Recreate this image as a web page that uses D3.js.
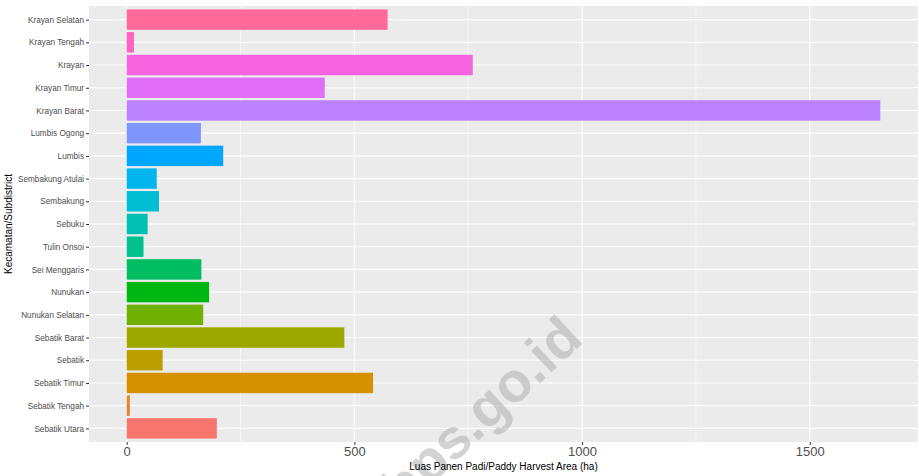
<!DOCTYPE html>
<html><head><meta charset="utf-8">
<script src="https://cdn.jsdelivr.net/npm/d3@7"></script>
<style>body{margin:0;background:#fff}svg{display:block}</style>
</head><body>
<svg id="c" width="919" height="476"></svg>
<script>
// categories from top to bottom
const categories = ["Krayan Selatan","Krayan Tengah","Krayan","Krayan Timur","Krayan Barat","Lumbis Ogong","Lumbis","Sembakung Atulai","Sembakung","Sebuku","Tulin Onsoi","Sei Menggaris","Nunukan","Nunukan Selatan","Sebatik Barat","Sebatik","Sebatik Timur","Sebatik Tengah","Sebatik Utara"];
const values = [573,16,760,435,1655,163,212,66,71,46,37,164,181,168,478,79,541,7,198];
const xTicks = [0,500,1000,1500];
const xMinor = [250,750,1250];
const xTitle = "Luas Panen Padi/Paddy Harvest Area (ha)";
const yTitle = "Kecamatan/Subdistrict";
const watermark = "bps.go.id";

// ggplot-like hue palette (polar LUV)
function hcl(h,c,l){
  const hr=h*Math.PI/180, U=c*Math.cos(hr), V=c*Math.sin(hr);
  const Xn=95.047,Yn=100,Zn=108.883;
  const Y=Yn*(l>7.999592?Math.pow((l+16)/116,3):l/903.3);
  const uN=4*Xn/(Xn+15*Yn+3*Zn), vN=9*Yn/(Xn+15*Yn+3*Zn);
  const u=U/(13*l)+uN, v=V/(13*l)+vN;
  const X=9*Y*u/(4*v), Z=-X/3-5*Y+3*Y/v;
  const x=X/100,y=Y/100,z=Z/100;
  const lin=[3.240479*x-1.537150*y-0.498535*z,-0.969256*x+1.875992*y+0.041556*z,0.055648*x-0.204043*y+1.057311*z];
  const g=lin.map(t=>{t=t<=0.0031308?12.92*t:1.055*Math.pow(t,1/2.4)-0.055;return Math.round(Math.max(0,Math.min(1,t))*255);});
  return d3.rgb(g[0],g[1],g[2]).formatHex();
}
const n=categories.length;
// first factor level is drawn at the bottom
const colorOf = {};
categories.slice().reverse().forEach((c,i)=>{ colorOf[c]=hcl(15+360/n*i,100,65); });

const svg=d3.select("#c");
const P={l:89,r:918,t:6,b:442};
const maxV=d3.max(values);
const x=d3.scaleLinear().domain([-0.05*maxV,1.05*maxV]).range([P.l,P.r]);
const y=d3.scalePoint().domain(categories).range([P.t,P.b]).padding(0.6);
const bh=y.step()*0.9;
const font="'Liberation Sans', Arial, sans-serif";

svg.append("rect").attr("x",P.l).attr("y",P.t).attr("width",P.r-P.l).attr("height",P.b-P.t).attr("fill","#EBEBEB");
const grid=svg.append("g");
grid.selectAll(".mn").data(xMinor).join("line").attr("x1",d=>x(d)).attr("x2",d=>x(d)).attr("y1",P.t).attr("y2",P.b).attr("stroke","#fff").attr("stroke-width",0.55);
grid.selectAll(".mj").data(xTicks).join("line").attr("x1",d=>x(d)).attr("x2",d=>x(d)).attr("y1",P.t).attr("y2",P.b).attr("stroke","#fff").attr("stroke-width",1.1);
grid.selectAll(".hy").data(categories).join("line").attr("x1",P.l).attr("x2",P.r).attr("y1",d=>y(d)).attr("y2",d=>y(d)).attr("stroke","#fff").attr("stroke-width",1.1);

svg.append("g").selectAll("rect").data(categories).join("rect")
  .attr("x",x(0)).attr("y",d=>y(d)-bh/2)
  .attr("width",(d,i)=>x(values[i])-x(0)).attr("height",bh)
  .attr("fill",d=>colorOf[d]);

// watermark (partly outside the picture, as in the reference)
svg.append("text").attr("transform","translate(494,426) rotate(-43)").attr("text-anchor","middle")
  .style("font-family",font).style("font-size","56px").style("font-weight","bold")
  .attr("fill","#b0b0b0").attr("opacity",0.55).text(watermark);

// y axis
const ya=svg.append("g").attr("transform",`translate(${P.l},0)`)
  .call(d3.axisLeft(y).tickSize(3).tickPadding(2));
ya.select(".domain").remove();
ya.selectAll(".tick line").attr("stroke","#333").attr("stroke-width",1);
ya.selectAll(".tick text").attr("fill","#4D4D4D").style("font-family",font).style("font-size","8.2px");

// x axis
const xa=svg.append("g").attr("transform",`translate(0,${P.b})`)
  .call(d3.axisBottom(x).tickValues(xTicks).tickSize(3).tickPadding(2).tickFormat(d3.format("d")));
xa.select(".domain").remove();
xa.selectAll(".tick line").attr("stroke","#333").attr("stroke-width",1);
xa.selectAll(".tick text").attr("fill","#4D4D4D").style("font-family",font).style("font-size","13px");

svg.append("text").attr("x",(P.l+P.r)/2).attr("y",470).attr("text-anchor","middle")
  .style("font-family",font).style("font-size","10px").attr("fill","#000").text(xTitle);
svg.append("text").attr("transform",`translate(12,${(P.t+P.b)/2}) rotate(-90)`).attr("text-anchor","middle")
  .style("font-family",font).style("font-size","10px").attr("fill","#000").text(yTitle);
</script>
</body></html>
